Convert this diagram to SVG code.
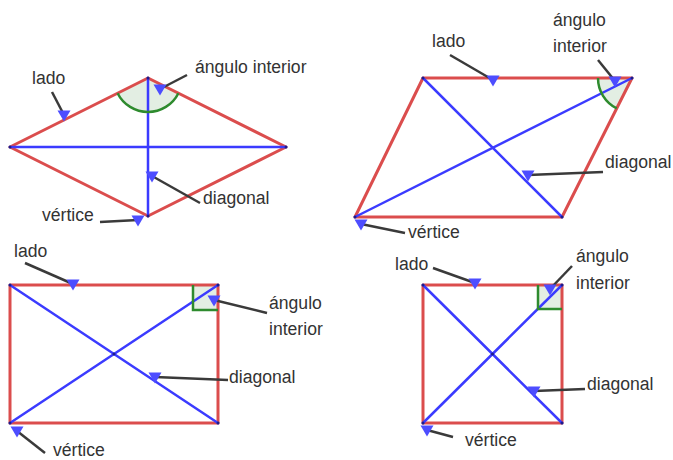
<svg xmlns="http://www.w3.org/2000/svg" width="673" height="460" viewBox="0 0 673 460">
<style>
.bg{fill:#ffffff}
.side{fill:none;stroke:#d94343;stroke-width:3;stroke-linejoin:round;stroke-opacity:0.95}
.diag{fill:none;stroke:#3b3bff;stroke-width:2.5;stroke-linecap:round}
.sector{fill:#e3eee3;stroke:none}
.arc{fill:none;stroke:#2e8b2e;stroke-width:2.5}
.lead{fill:none;stroke:#3a3a3a;stroke-width:2.5;marker-end:url(#tri)}
.lbl{font-family:"Liberation Sans",Arial,sans-serif;font-size:17.6px;fill:#333333}
.pt{fill:#1c1c8c}
</style>
<defs>
<marker id="tri" markerUnits="userSpaceOnUse" orient="0" viewBox="-7 -6 14 14" markerWidth="14" markerHeight="14" refX="0" refY="0">
<path d="M-6.5,-4.5 L6.5,-4.5 L0,6.5 Z" fill="#4d4dff"/>
</marker>
</defs>
<rect class="bg" x="0" y="0" width="673" height="460"/>

<g id="rombo">
<path class="sector" d="M148,78 L117.6,93.2 A34,34 0 0 0 178.4,93.2 Z"/>
<polygon class="side" points="10,147 148,78 286,147 148,216"/>
<line class="diag" x1="10" y1="147" x2="286" y2="147"/>
<line class="diag" x1="148" y1="78" x2="148" y2="216"/>
<path class="arc" d="M117.6,93.2 A34,34 0 0 0 178.4,93.2"/>
<circle class="pt" cx="10" cy="147" r="1.5"/><circle class="pt" cx="148" cy="78" r="1.5"/><circle class="pt" cx="286" cy="147" r="1.5"/><circle class="pt" cx="148" cy="216" r="1.5"/>
</g>

<g id="paralelogramo">
<path class="sector" d="M632,78 L598,78 A34,34 0 0 0 616.7,108.4 Z"/>
<polygon class="side" points="423,78 632,78 562,217 355,217"/>
<line class="diag" x1="423" y1="78" x2="562" y2="217"/>
<line class="diag" x1="355" y1="217" x2="632" y2="78"/>
<path class="arc" d="M598,78 A34,34 0 0 0 616.7,108.4"/>
<circle class="pt" cx="423" cy="78" r="1.5"/><circle class="pt" cx="632" cy="78" r="1.5"/><circle class="pt" cx="562" cy="217" r="1.5"/><circle class="pt" cx="355" cy="217" r="1.5"/>
</g>

<g id="rectangulo">
<rect class="sector" x="193" y="285" width="25" height="25"/>
<rect class="side" x="10" y="285" width="208" height="138"/>
<line class="diag" x1="10" y1="285" x2="218" y2="423"/>
<line class="diag" x1="10" y1="423" x2="218" y2="285"/>
<path class="arc" d="M193,285 L193,310 L218,310"/>
<circle class="pt" cx="10" cy="285" r="1.5"/><circle class="pt" cx="218" cy="285" r="1.5"/><circle class="pt" cx="218" cy="423" r="1.5"/><circle class="pt" cx="10" cy="423" r="1.5"/><circle class="pt" cx="114" cy="354" r="1.5"/>
</g>

<g id="cuadrado">
<rect class="sector" x="538" y="285" width="24" height="24"/>
<rect class="side" x="423" y="285" width="139" height="138"/>
<line class="diag" x1="423" y1="285" x2="562" y2="423"/>
<line class="diag" x1="423" y1="423" x2="562" y2="285"/>
<path class="arc" d="M538,285 L538,309 L562,309"/>
<circle class="pt" cx="423" cy="285" r="1.5"/><circle class="pt" cx="562" cy="285" r="1.5"/><circle class="pt" cx="562" cy="423" r="1.5"/><circle class="pt" cx="423" cy="423" r="1.5"/><circle class="pt" cx="492.5" cy="354" r="1.5"/>
</g>

<g id="conectores">
<line class="lead" x1="52" y1="92" x2="64" y2="115"/>
<line class="lead" x1="187" y1="75" x2="160" y2="89"/>
<line class="lead" x1="200" y1="203" x2="152" y2="176"/>
<line class="lead" x1="100" y1="222" x2="138" y2="220"/>
<line class="lead" x1="450" y1="55" x2="493" y2="80"/>
<line class="lead" x1="598" y1="60" x2="615" y2="81"/>
<line class="lead" x1="603" y1="172" x2="528" y2="175"/>
<line class="lead" x1="405" y1="233" x2="361" y2="224"/>
<line class="lead" x1="25" y1="263" x2="73" y2="284"/>
<line class="lead" x1="267" y1="313" x2="214" y2="300"/>
<line class="lead" x1="228" y1="380" x2="155" y2="377"/>
<line class="lead" x1="45" y1="453" x2="17" y2="431"/>
<line class="lead" x1="433" y1="268" x2="475" y2="283"/>
<line class="lead" x1="572" y1="266" x2="550" y2="289"/>
<line class="lead" x1="585" y1="389" x2="534" y2="391"/>
<line class="lead" x1="453" y1="437" x2="427" y2="430"/>
</g>

<g id="etiquetas">
<g id="lbl-rombo">
<text class="lbl" x="32" y="84">lado</text>
<text class="lbl" x="195" y="73">ángulo interior</text>
<text class="lbl" x="203" y="204">diagonal</text>
<text class="lbl" x="42" y="221">vértice</text>
</g>
<g id="lbl-paralelogramo">
<text class="lbl" x="432" y="47">lado</text>
<text class="lbl" x="553" y="26">ángulo</text>
<text class="lbl" x="553" y="52">interior</text>
<text class="lbl" x="605" y="168">diagonal</text>
<text class="lbl" x="408" y="238">vértice</text>
</g>
<g id="lbl-rectangulo">
<text class="lbl" x="14" y="257">lado</text>
<text class="lbl" x="269" y="309">ángulo</text>
<text class="lbl" x="269" y="335">interior</text>
<text class="lbl" x="229" y="383">diagonal</text>
<text class="lbl" x="53" y="456">vértice</text>
</g>
<g id="lbl-cuadrado">
<text class="lbl" x="395" y="270">lado</text>
<text class="lbl" x="576" y="262">ángulo</text>
<text class="lbl" x="576" y="289">interior</text>
<text class="lbl" x="587" y="390">diagonal</text>
<text class="lbl" x="465" y="446">vértice</text>
</g>
</g>
</svg>
